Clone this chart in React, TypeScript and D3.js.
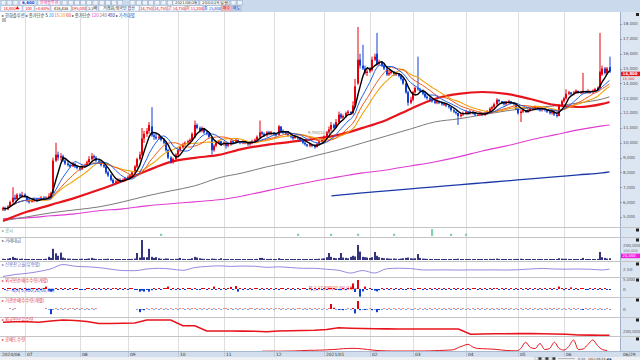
import * as d3 from 'd3';

// daily candles [open, high, low, close] in 100 won
const ohlc: number[][] = [
  [55,57,54,56],[56,57,54,55],[55,58,55,57],[57,61,57,60],[60,70,59,63],[63,65,61,62],[62,66,62,65],[65,66,63,64],[64,67,63,65],[65,66,63,64],
  [64,64,60,61],[61,62,59,60],[60,62,60,61],[61,63,60,62],[62,63,60,61],[61,63,61,62],[62,64,62,63],[63,64,61,62],[62,64,62,63],[63,66,62,64],
  [64,67,63,66],[66,90,66,88],[88,100,87,92],[92,94,88,90],[90,93,88,91],[91,92,87,88],[88,89,85,86],[86,88,84,85],[85,86,83,84],[84,87,84,86],
  [86,86,83,84],[84,85,82,83],[83,84,81,82],[82,85,82,84],[84,86,83,85],[85,88,85,87],[87,91,86,89],[89,93,88,91],[91,92,89,90],[90,91,87,88],
  [88,89,86,87],[87,88,84,85],[85,86,83,84],[84,84,79,80],[80,81,77,78],[78,79,74,75],[75,76,72,73],[73,75,72,74],[74,76,73,75],[75,76,73,74],
  [74,76,74,75],[75,77,74,76],[76,78,75,77],[77,79,76,78],[78,81,77,80],[80,85,80,84],[84,90,83,89],[89,94,88,92],[92,110,91,103],[103,108,100,106],
  [106,110,104,108],[108,114,106,112],[111,124,104,105],[105,107,102,104],[104,106,102,103],[103,106,102,104],[104,105,101,102],[102,103,99,100],[100,101,94,95],[95,96,89,90],
  [90,91,86,87],[87,90,86,89],[89,93,88,92],[92,96,91,95],[95,98,94,97],[97,100,96,99],[99,101,98,100],[100,102,99,101],[101,103,99,102],[102,107,101,106],
  [104,115,103,112],[112,113,109,110],[110,111,107,108],[108,111,107,110],[110,110,106,107],[107,108,105,106],[106,107,103,104],[104,104,92,95],[95,99,94,98],[98,101,97,100],
  [100,102,99,101],[101,101,98,99],[99,101,98,100],[100,100,96,98],[98,100,97,99],[99,102,98,101],[101,102,99,100],[100,103,100,102],[102,102,100,101],[101,101,99,100],
  [100,102,99,101],[101,101,99,100],[100,100,98,99],[99,101,98,100],[100,102,99,101],[101,103,100,102],[102,105,101,104],[104,115,103,107],[107,108,105,106],[106,107,104,105],
  [105,108,104,107],[107,108,105,106],[106,108,105,107],[107,107,105,106],[106,106,104,105],[105,112,105,111],[111,111,107,108],[108,109,106,107],[107,107,105,106],[106,107,104,105],
  [105,106,103,104],[104,105,102,103],[103,105,103,104],[104,104,102,103],[103,103,101,102],[102,102,99,100],[100,101,98,99],[99,99,97,98],[98,100,97,99],[99,99,97,98],
  [98,99,96,97],[97,100,97,99],[99,102,98,101],[101,103,100,102],[102,105,101,104],[104,108,103,107],[107,111,106,109],[109,114,108,112],[112,113,109,110],[110,116,110,114],
  [114,121,113,119],[119,120,116,117],[117,119,116,118],[118,121,117,120],[120,122,119,121],[121,121,119,120],[120,128,119,125],[125,143,124,138],[140,178,139,156],[156,160,150,152],
  [152,166,149,150],[150,152,146,147],[147,150,145,148],[148,151,147,150],[149,158,148,156],[156,160,155,158],[160,174,152,153],[153,156,152,154],[154,155,151,152],[152,153,149,150],
  [150,151,145,146],[146,149,145,147],[147,149,146,148],[148,148,145,146],[146,148,145,147],[147,147,144,145],[145,146,142,143],[143,144,139,140],[140,140,133,134],[134,135,125,127],
  [127,131,126,129],[129,135,128,134],[134,138,133,137],[137,158,135,136],[136,137,134,135],[135,136,132,133],[133,134,130,131],[131,132,129,130],[130,131,128,129],[129,130,127,128],
  [128,129,126,127],[127,129,126,128],[128,128,126,127],[127,128,125,126],[126,127,125,126],[126,126,124,125],[125,125,123,124],[124,124,121,122],[122,123,120,121],[121,121,119,120],
  [120,120,112,118],[118,120,117,119],[119,121,118,120],[120,122,119,121],[121,121,119,120],[120,122,119,121],[121,121,119,120],[120,120,118,119],[119,120,118,119],[119,121,118,120],
  [120,120,118,119],[119,121,118,120],[120,122,119,121],[121,124,120,123],[123,125,122,124],[124,127,123,126],[126,130,125,129],[129,129,127,128],[128,128,126,127],[127,128,125,126],
  [126,128,125,127],[127,129,126,128],[128,128,126,127],[127,127,125,126],[126,126,122,123],[123,123,119,120],[120,122,114,121],[121,123,120,122],[122,122,120,121],[121,123,120,122],
  [122,124,121,123],[123,124,122,123],[123,125,122,124],[124,124,122,123],[123,123,121,122],[122,124,121,123],[123,123,121,122],[122,122,120,121],[121,121,119,120],[120,122,119,121],
  [121,121,118,119],[119,119,117,118],[118,126,118,125],[125,129,124,128],[128,131,127,130],[130,136,129,133],[133,135,132,134],[134,134,132,133],[133,135,132,134],[134,136,133,135],
  [135,135,133,134],[134,135,133,134],[134,147,133,135],[135,135,133,134],[134,136,133,135],[135,135,133,134],[134,136,133,135],[135,137,134,136],[136,138,135,137],[137,174,136,148],
  [146,152,145,150],[150,151,146,147],[147,151,146,150],[151,158,147,148],
];

// trading value, thousand
const amount = [
  18,15,20,28,45,30,22,16,20,15,14,12,13,15,12,14,13,12,18,45,
  30,160,95,60,105,35,25,20,18,16,15,14,16,18,15,17,22,30,20,16,
  14,13,15,16,18,15,14,12,13,12,14,13,12,15,16,20,100,35,285,40,
  40,160,45,30,40,25,18,16,22,20,15,14,16,18,30,16,14,13,15,25,
  45,35,25,18,16,15,14,20,18,15,14,25,13,12,14,13,12,14,13,12,
  11,12,13,12,11,13,16,30,30,18,15,14,16,13,14,25,15,13,12,11,
  12,11,12,13,12,11,12,13,14,12,13,15,18,20,25,40,100,45,30,25,
  30,100,35,30,25,45,60,50,215,120,45,40,35,30,40,115,60,40,30,25,
  25,20,18,22,18,16,20,25,30,35,25,20,25,85,30,20,18,16,15,14,
  14,13,12,13,12,11,12,13,14,15,18,14,12,11,13,12,11,12,11,12,
  11,12,13,15,14,16,20,15,13,12,11,12,11,13,15,16,18,14,12,11,
  12,11,10,11,12,11,10,11,12,11,12,14,25,20,16,18,15,13,12,14,
  13,15,30,14,12,13,12,14,16,115,40,30,20,25,
];

// foreign net buying, 100 shares
const foreign = [
  2,-3,3,2,-2,3,-3,2,-2,3,-2,-3,2,3,-2,2,-3,3,12,-8,
  -13,-8,3,-3,2,-2,3,-3,2,-2,3,2,-2,-3,-5,2,3,-2,3,-2,
  2,-3,3,-2,2,-3,2,3,-2,3,-3,2,-2,3,2,-3,-5,-13,-8,-13,
  -4,-13,-6,3,-2,2,-3,3,2,12,-2,3,-3,2,-2,3,-3,2,3,-2,
  3,-2,-3,2,3,-2,2,-3,12,-2,3,-3,2,-2,3,10,-3,15,-13,2,
  -2,3,-3,2,-2,3,2,-3,3,-2,2,-3,3,-2,2,-3,2,3,-2,3,
  -3,2,-2,3,-3,2,2,-3,3,-2,2,-3,3,-2,2,-3,3,4,5,-3,
  -4,-6,3,-3,2,8,28,-15,45,-38,-12,12,-3,2,-4,-8,-12,-6,3,-2,
  2,-3,3,-2,2,-3,3,-2,-3,2,3,-2,-3,2,3,-2,2,-3,3,-2,
  2,-3,3,-2,3,-2,2,-3,3,-2,2,-3,2,-3,3,-2,2,3,-3,2,
  -2,3,-3,2,-2,3,3,-2,2,-3,3,-2,2,-3,2,-3,3,-2,2,-3,
  3,-2,2,-3,3,-2,2,-3,3,-2,2,-3,12,3,-6,2,-3,8,-2,3,
  -3,2,3,-2,-3,2,-2,3,-3,2,-3,3,-2,-3,
];

// institution net buying, 100 shares
const institution = [
  0,0,0,3,-2,3,0,0,0,0,0,0,0,0,0,0,0,0,2,-3,
  -26,-4,3,-2,2,-3,3,-2,2,3,-2,2,-3,2,-2,3,-2,2,-3,2,
  0,0,0,0,0,0,0,0,0,0,0,0,0,0,0,0,-3,-16,-4,-6,
  2,-3,2,-2,3,-2,2,-3,2,-2,3,-2,2,-3,2,3,-2,2,-3,2,
  3,-2,2,-3,2,-2,3,-2,2,-3,3,-2,2,3,-2,2,-3,2,-2,3,
  -2,2,-3,2,3,-2,2,-3,2,-2,3,-2,2,-3,2,3,-2,2,-2,3,
  -3,2,-2,3,2,-3,2,-2,3,-2,2,-3,2,-2,3,-3,4,25,6,-4,
  -5,-4,-6,-3,2,-3,5,-22,40,-6,-3,-5,-4,3,-6,-4,-16,-5,-3,2,
  -3,2,-2,3,-2,2,-3,2,-2,3,-2,-3,2,-2,3,-2,2,-3,2,-2,
  3,-2,2,-3,2,-2,3,-2,2,-3,2,-2,3,-2,2,-3,2,-2,3,-2,
  2,-3,2,-2,3,-2,2,-3,2,-2,3,-2,2,-3,2,-2,3,-2,2,-3,
  2,-2,3,-2,2,-3,2,-2,3,-2,2,-3,2,-2,3,-2,2,-3,2,-2,
  3,-2,-5,2,-3,2,-2,3,-2,2,-3,-4,2,-3,
];

const maDays = [0,10,20,30,40,50,60,70,80,90,100,110,120,130,140,150,160,170,180,190,200,210,220,230,240,250,253];
const ma60 = [4740,5350,5820,6290,6830,7430,8110,8710,8980,9180,9590,9860,10060,10260,10530,11000,11540,12280,12950,13290,13420,13290,12950,12550,12410,12620,12750];
const ma120 = [4740,5010,5280,5480,5680,6020,6420,6760,7100,7640,7970,8380,8710,9120,9520,9990,10460,10930,11400,11610,11880,12150,12350,12480,12680,12950,13090];
const ma240 = [4880,4940,5080,5210,5420,5550,5750,5890,6020,6160,6420,6760,7100,7430,7700,7970,8170,8440,8710,9050,9450,9790,10190,10530,10870,11140,11200];
const ma480Days = [137,150,160,170,180,190,200,210,220,230,240,250,253];
const ma480 = [6420,6630,6760,6900,7030,7170,7300,7430,7570,7700,7840,7970,8040];

// credit balance ratio (%), every 5 days + last
const creditDays = [0,5,10,15,20,25,30,35,40,45,50,55,60,65,70,75,80,85,90,95,100,105,110,115,120,125,130,135,140,145,150,155,160,165,170,175,180,185,190,195,200,205,210,215,220,225,230,235,240,245,250,253];
const credit = [1.65,1.87,2.01,2.22,2.52,3.01,2.82,2.75,2.66,2.48,2.32,2.31,2.5,2.58,2.5,2.35,2.67,2.79,2.86,2.8,2.84,2.82,2.69,2.75,2.67,2.58,2.58,2.47,2.36,2.04,2.33,2.04,2.52,2.59,2.56,2.39,2.39,2.4,2.38,2.4,2.39,2.4,2.38,2.42,2.5,2.56,2.5,2.48,2.5,2.47,2.39,2.5];

// foreign holdings (thousand shares), same days as credit
const holding = [548,568,568,552,600,640,620,580,500,500,508,520,640,640,640,408,408,200,200,200,196,188,172,200,212,220,228,260,332,312,300,290,285,282,280,280,280,280,280,68,80,88,92,96,100,92,80,70,40,36,28,28];

// short selling (thousand shares), every 2 days from day 108
const shortDays = d3.range(108, 253, 2);
const shortSell = [
  3,3,4,3,3,4,5,6,8,10,12,12,14,15,18,20,24,28,30,32,
  30,26,20,15,10,8,6,5,5,5,5,5,5,5,5,6,8,10,12,14,
  18,40,58,72,45,30,28,26,24,20,15,10,8,6,30,92,40,30,80,20,
  30,92,30,15,50,115,20,25,70,115,60,20,10,
];

// disclosures: day index and count
const notices = [[66,1],[123,1],[137,1],[148,1],[163,1],[179,3],[187,1],[193,1]];

const monthStarts = [9, 32, 52, 73, 92, 113, 134, 153, 171, 193, 215, 234];
const monthLabels = ['07', '08', '09', '10', '11', '12', '2021/01', '02', '03', '04', '05', '06'];
const priceTicks = d3.range(5000, 18001, 1000);

const KR = '"Noto Sans CJK KR", "Noto Sans", sans-serif';
const NUM = '"DejaVu Sans", "Liberation Sans", sans-serif';
const UP = '#e8000c';
const DOWN = '#0b3fd6';
const PR = 620; // right edge of plotting area

function sma(vals: number[], n: number) {
  return vals.map((_, i) => d3.mean(vals.slice(Math.max(0, i - n + 1), i + 1)) as number);
}

export default function App() {
  const n = ohlc.length;
  const x = d3.scaleLinear().domain([0, n - 1]).range([3, 609.5]);
  const cx = (i: number) => Math.round(x(i));
  const y = d3.scaleLinear().domain([5000, 18000]).range([217, 24]);
  const closes = ohlc.map(d => d[3] * 100);

  const yAmt = d3.scaleLinear().domain([0, 200]).range([260, 246]);
  const yCredit = d3.scaleLinear().domain([1.6, 3.3]).range([276.9, 262]);
  const yHold = d3.scaleLinear().domain([0, 760]).range([336, 317]);
  const yShort = d3.scaleLinear().domain([0, 150]).range([351.5, 336.5]);

  const line = d3.line<[number, number]>().x(d => x(d[0])).y(d => y(d[1]));
  const smooth = d3.line<[number, number]>().x(d => x(d[0])).y(d => y(d[1])).curve(d3.curveMonotoneX);

  const shortMas = [
    { n: 20, color: '#f2a007', w: 1.1 },
    { n: 15, color: '#f0581a', w: 1 },
    { n: 10, color: '#1f5fe6', w: 1 },
    { n: 5, color: '#000000', w: 1.4 },
  ];
  const longMas = [
    { days: ma480Days, vals: ma480, color: '#1a3aa8', w: 1.3 },
    { days: maDays, vals: ma240, color: '#e03cd2', w: 1.1 },
    { days: maDays, vals: ma120, color: '#7a7a7a', w: 1 },
    { days: maDays, vals: ma60, color: '#e8141c', w: 2.2 },
  ];

  const panels = [227, 237, 261, 277, 297, 317, 336, 351];
  const panelLabels = [
    { y: 231.5, t: '▸ 공시', c: '#5aa080' },
    { y: 241.5, t: '▸ 거래대금', c: '#555' },
    { y: 265.5, t: '▸ 신용잔고율(유형별)', c: '#7060b0' },
    { y: 281.5, t: '▸ 외국인순매수수량(개별)', c: '#e03030' },
    { y: 301.5, t: '▸ 기관순매수수량(개별)', c: '#e03030' },
    { y: 321, t: '▸ 외국인보유수량', c: '#e03030' },
    { y: 340.5, t: '▸ 공매도수량', c: '#e03030' },
  ];

  const hiIdx = d3.maxIndex(ohlc, d => d[1]);
  const loIdx = d3.minIndex(ohlc, d => d[2]);
  const last = ohlc[n - 1];
  const fmt = d3.format(',');
  const lastY = y(last[3] * 100);

  const topBoxes = [
    { x: 1, w: 21, t: '14,800▲', c: UP },
    { x: 23, w: 11, t: '100', c: UP },
    { x: 35, w: 15, t: '+0.68%', c: UP },
    { x: 51, w: 20, t: '416,436', c: '#222' },
    { x: 72, w: 14, t: '195,000', c: UP },
    { x: 87, w: 11, t: '3.3배', c: '#222' },
    { x: 99, w: 40, t: '거래원/외국인 합산', c: '#222' },
    { x: 140, w: 13, t: '14,750', c: UP },
    { x: 154, w: 13, t: '14,750', c: UP },
    { x: 168, w: 17, t: '고 14,750', c: UP },
    { x: 186, w: 17, t: '저 11,200', c: UP },
    { x: 204, w: 17, t: '종 15,800', c: '#1040d0' },
  ];

  return (
    <svg width={640} height={360} style={{ display: 'block', position: 'absolute', left: 0, top: 0, background: '#fff' }}>
      <style>{'body{margin:0}'}</style>

      {/* toolbar */}
      <rect x={0} y={0} width={640} height={12} fill="#cad9ec" />
      {d3.range(0, 30).map(k => (
        <rect key={'tb' + k} x={k < 3 ? 1 + k * 6 : 62 + (k - 3) * 6.2 + (k > 12 ? 6 : 0) + (k > 20 ? 8 : 0)} y={0.5} width={5} height={4.5}
          fill="#eef3fa" stroke="#8ea6c4" strokeWidth={0.5} />
      ))}
      <rect x={20} y={0.5} width={16} height={4.5} fill="#fff" stroke="#8ea6c4" strokeWidth={0.5} />
      <text x={22} y={4.3} fontSize={4} fontFamily={NUM} fill="#1040d0" fontWeight="bold">6,600</text>
      <rect x={38} y={0.5} width={22} height={4.5} fill="#fff" stroke="#8ea6c4" strokeWidth={0.5} />
      <text x={40} y={4.3} fontSize={4} fontFamily={KR} fill="#e0208a">한화솔루션</text>
      <rect x={173} y={0.5} width={22} height={4.5} fill="#fff" stroke="#8ea6c4" strokeWidth={0.5} />
      <text x={175} y={4.3} fontSize={3.8} fontFamily={NUM} fill="#333">2021/06/29</text>
      <rect x={200} y={0.5} width={28} height={4.5} fill="#fff" stroke="#8ea6c4" strokeWidth={0.5} />
      <text x={202} y={4.3} fontSize={3.8} fontFamily={NUM} fill="#333">20/04/29 일봉</text>
      {topBoxes.map((b, k) => (
        <g key={'bx' + k}>
          <rect x={b.x} y={5.8} width={b.w} height={5.2} fill="#fff" stroke="#9fb3cc" strokeWidth={0.5} />
          <text x={b.x + b.w / 2} y={9.9} fontSize={4} textAnchor="middle" fontFamily={KR} fill={b.c}>{b.t}</text>
        </g>
      ))}
      <rect x={222} y={5.8} width={9} height={5.2} fill="#f7c6c6" stroke="#c99" strokeWidth={0.5} />
      <text x={226.5} y={9.9} fontSize={4} textAnchor="middle" fontFamily={KR} fill="#c00">매수</text>
      <rect x={232} y={5.8} width={9} height={5.2} fill="#c9d8ef" stroke="#99a8c9" strokeWidth={0.5} />
      <text x={236.5} y={9.9} fontSize={4} textAnchor="middle" fontFamily={KR} fill="#1040d0">매도</text>

      {/* right axis panel */}
      <rect x={PR} y={12} width={20} height={339} fill="#dce6f2" />
      <line x1={PR + 0.5} x2={PR + 0.5} y1={12} y2={351} stroke="#9fb0c8" />

      {/* month grid */}
      {monthStarts.map(m => (
        <line key={'g' + m} x1={cx(m) + 0.5} x2={cx(m) + 0.5} y1={12} y2={351} stroke="#dedede" strokeWidth={1} />
      ))}

      {/* panel separators */}
      {panels.slice(0, 7).map(py => (
        <g key={'p' + py}>
          <line x1={0} x2={640} y1={py + 0.5} y2={py + 0.5} stroke="#c4c4c4" />
          <rect x={636} y={py + 1.5} width={3} height={3} fill="#222" />
        </g>
      ))}
      <rect x={636} y={13} width={3} height={3} fill="#222" />

      {/* legend */}
      <text x={2} y={16.5} fontSize={4.3} fontFamily={KR}>
        <tspan fill="#333">▸ 한화솔루션 ▸ 종가단순 </tspan>
        <tspan fill="#000">5 </tspan>
        <tspan fill="#1f5fe6">10 </tspan>
        <tspan fill="#f0581a">15 </tspan>
        <tspan fill="#f2a007">20 </tspan>
        <tspan fill="#e8141c">60 </tspan>
        <tspan fill="#333"> ▸ 종가단순 </tspan>
        <tspan fill="#e03cd2">120 </tspan>
        <tspan fill="#7a7a7a">240 </tspan>
        <tspan fill="#1a3aa8">480</tspan>
        <tspan fill="#333"> ▸ </tspan>
        <tspan fill="#2050c0">가격대별</tspan>
      </text>
      <rect x={2} y={18} width={4} height={4} fill="#bbb" />

      {/* long moving averages */}
      {longMas.map((m, k) => (
        <path key={'lm' + k} d={smooth(m.days.map((d, j) => [d, m.vals[j]] as [number, number])) || ''}
          fill="none" stroke={m.color} strokeWidth={m.w} />
      ))}

      {/* candles */}
      {ohlc.map((d, i) => {
        const [o, h, l, c] = d.map(v => v * 100);
        const col = c >= o ? UP : DOWN;
        const top = y(Math.max(o, c));
        const bh = Math.max(1, Math.abs(y(o) - y(c)));
        return (
          <g key={'c' + i}>
            <line x1={cx(i)} x2={cx(i)} y1={y(h)} y2={y(l)} stroke={col} strokeWidth={1} />
            <rect x={cx(i) - 1} y={top} width={2} height={bh} fill={col} />
          </g>
        );
      })}

      {/* short moving averages */}
      {shortMas.map(m => (
        <path key={'sm' + m.n} d={line(sma(closes, m.n).map((v, i) => [i, v] as [number, number])) || ''}
          fill="none" stroke={m.color} strokeWidth={m.w} />
      ))}

      {/* high / low markers */}
      <text x={x(hiIdx) - 4} y={y(ohlc[hiIdx][1]) + 1.5} fontSize={4.6} fontFamily={KR} fill="#e83030" textAnchor="end">
        최고 {fmt(ohlc[hiIdx][1] * 100)}(21/01/11)
      </text>
      <line x1={x(hiIdx) - 3.5} x2={x(hiIdx)} y1={y(ohlc[hiIdx][1])} y2={y(ohlc[hiIdx][1])} stroke="#e83030" strokeWidth={0.6} />
      <text x={x(loIdx) + 3} y={y(ohlc[loIdx][2]) + 2} fontSize={4.6} fontFamily={KR} fill="#3050d0">
        ← 최저 {fmt(ohlc[loIdx][2] * 100)}(20/06/26)
      </text>
      <text x={308} y={134} fontSize={4.2} fontFamily={KR} fill="#777">9,700(12/28)</text>

      {/* price axis */}
      {priceTicks.map(t => (
        <g key={'pt' + t}>
          <line x1={PR} x2={PR + 2} y1={Math.round(y(t)) + 0.5} y2={Math.round(y(t)) + 0.5} stroke="#777" strokeWidth={0.6} />
          <text x={PR + 3} y={y(t) + 1.4} fontSize={4.2} fontFamily={NUM} fill="#555">{fmt(t)}</text>
        </g>
      ))}
      <rect x={PR + 1} y={lastY + 0.2} width={19} height={4.4} fill="#e8141c" />
      <text x={PR + 2.5} y={lastY + 3.7} fontSize={3.9} fontFamily={NUM} fill="#fff" fontWeight="bold">
        {fmt(last[3] * 100)}
      </text>
      <text x={PR + 2.5} y={lastY + 8} fontSize={3.4} fontFamily={NUM} fill="#e8141c">{fmt(last[0] * 100)}</text>

      {/* panel labels */}
      {panelLabels.map((p, k) => (
        <text key={'pl' + k} x={2} y={p.y} fontSize={4.4} fontFamily={KR} fill={p.c}>{p.t}</text>
      ))}

      {/* disclosures */}
      {notices.map(([d, c]) => (
        <rect key={'nt' + d} x={cx(d) - 1} y={236 - 2.3 * c} width={2.2} height={2.3 * c} fill="#86d1aa" />
      ))}

      {/* trading value */}
      {amount.map((v, i) => (
        <rect key={'a' + i} x={cx(i) - 1} y={Math.min(259, yAmt(v))} width={2} height={Math.max(1, 260 - yAmt(v))} fill="#34347e" />
      ))}
      <text x={PR + 3} y={yAmt(200) + 1.4} fontSize={4.2} fontFamily={NUM} fill="#555">200,000</text>
      <text x={PR + 3} y={251.6} fontSize={3.6} fontFamily={NUM} fill="#777">100,000</text>
      <rect x={PR + 1} y={253.6} width={19} height={4.6} fill="#f01ee0" />
      <text x={PR + 2.5} y={257.2} fontSize={3.8} fontFamily={NUM} fill="#fff">{fmt(amount[n - 1] * 1000)}</text>

      {/* credit ratio */}
      <path d={d3.line<number>().x((_, j) => x(creditDays[j])).y(v => yCredit(v)).curve(d3.curveMonotoneX)(credit) || ''}
        fill="none" stroke="#9a86e0" strokeWidth={1} />
      <text x={PR + 3} y={yCredit(2.5) + 1.5} fontSize={4.2} fontFamily={NUM} fill="#555">2.50</text>

      {/* foreign net */}
      {foreign.map((v, i) => {
        const h = Math.max(1, Math.abs(v) * 0.2);
        return <rect key={'f' + i} x={cx(i) - 1} y={v >= 0 ? 289 - h : 289} width={2} height={h} fill={v >= 0 ? UP : DOWN} />;
      })}
      <text x={PR + 3} y={280.5} fontSize={4.2} fontFamily={NUM} fill="#555">5,000</text>
      <text x={PR + 3} y={290.5} fontSize={4.2} fontFamily={NUM} fill="#555">0</text>

      {/* institution net */}
      {institution.map((v, i) => {
        if (v === 0) return null;
        const h = Math.max(1, Math.abs(v) * 0.2);
        const small = Math.abs(v) < 5;
        const col = v >= 0 ? (small ? '#f48a8a' : UP) : (small ? '#7ea0ee' : DOWN);
        return <rect key={'in' + i} x={cx(i) - 1} y={v >= 0 ? 309 - h : 309} width={2} height={h} fill={col} />;
      })}
      <text x={PR + 3} y={310.5} fontSize={4.2} fontFamily={NUM} fill="#555">0</text>

      {/* foreign holdings */}
      <path d={d3.line<number>().x((_, j) => x(creditDays[j])).y(v => yHold(v))(holding) || ''}
        fill="none" stroke="#e8141c" strokeWidth={1.6} />
      <text x={PR + 3} y={yHold(200) + 1.5} fontSize={4.2} fontFamily={NUM} fill="#555">200,000</text>

      {/* short selling */}
      <path d={d3.line<number>().x((_, j) => x(shortDays[j])).y(v => yShort(v)).curve(d3.curveMonotoneX)(shortSell) || ''}
        fill="none" stroke="#e8141c" strokeWidth={1} />

      {/* time axis */}
      <rect x={0} y={351} width={640} height={6} fill="#d2deed" />
      <line x1={0} x2={640} y1={351.5} y2={351.5} stroke="#a9b9cf" />
      <text x={2} y={355.8} fontSize={4.4} fontFamily={NUM} fill="#333">2020/06</text>
      {monthStarts.map((m, k) => (
        <g key={'ml' + m}>
          <line x1={cx(m) + 0.5} x2={cx(m) + 0.5} y1={351} y2={357} stroke="#a9b9cf" strokeWidth={0.6} />
          <text x={cx(m) + 2} y={355.8} fontSize={4.4} fontFamily={NUM} fill="#333">{monthLabels[k]}</text>
        </g>
      ))}
      <text x={PR + 3} y={355.8} fontSize={4.4} fontFamily={NUM} fill="#333">06/29</text>
      <rect x={0} y={357} width={640} height={3} fill="#eef0f3" />
      {d3.range(0, 6).map(k => (
        <rect key={'sb' + k} x={535 + k * 3.5} y={357.3} width={2.8} height={2.6} fill={k % 2 ? '#333' : '#fff'} stroke="#777" strokeWidth={0.3} />
      ))}
      <line x1={558} x2={575} y1={358.6} y2={358.6} stroke="#777" strokeWidth={0.5} />
      <text x={578} y={359.8} fontSize={3} fontFamily={NUM} fill="#444">Q 20 · 2021/06/29 ◀ ▶</text>
    </svg>
  );
}
